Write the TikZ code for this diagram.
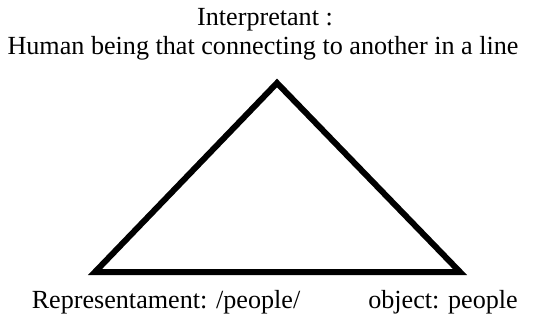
\documentclass[tikz,border=0pt]{standalone}
\usepackage{fontspec}
\setmainfont{Liberation Serif}
\usetikzlibrary{calc}

\begin{document}
\begin{tikzpicture}[x=0.75pt,y=-0.75pt]

    % Canvas (pixel units, y pointing down)
    \useasboundingbox (0,0) rectangle (534,320);

    % Text size used for all labels
    \def\fs{\fontsize{19.6}{23}\selectfont}

    % Corners of the sign triangle
    \coordinate (I) at (277,83);
    \coordinate (R) at (95,272);
    \coordinate (O) at (460,272);

    % Draw the triangle
    \draw[line width=4.5pt] (I) -- (R) -- (O) -- cycle;

    % Labels (placed by baseline)
    \node[anchor=base, inner sep=0pt] (interp) at (265,26) {\fs Interpretant :};
    \node[anchor=base, inner sep=0pt] (interpdesc) at (263,55) {\fs Human being that connecting to another in a line};
    \node[anchor=base, inner sep=0pt] (repr) at (166,308) {\fs Representament: /people/};
    \node[anchor=base, inner sep=0pt] (obj) at (443,308) {\fs object: people};

\end{tikzpicture}
\end{document}
